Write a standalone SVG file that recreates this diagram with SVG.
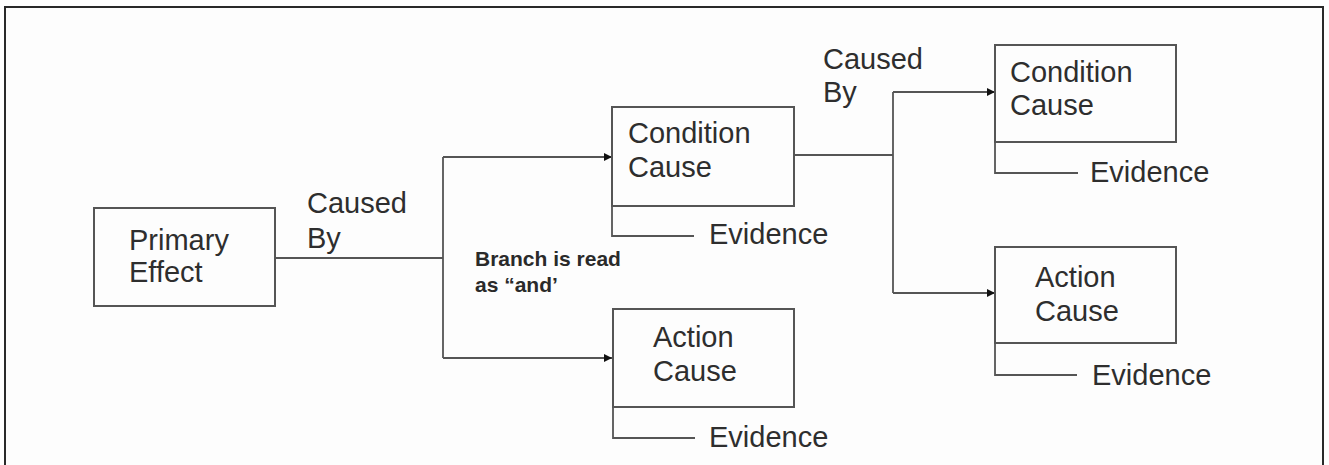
<svg xmlns="http://www.w3.org/2000/svg" width="1329" height="465" viewBox="0 0 1329 465">
<style>
.t{font-family:"Liberation Sans",Arial,sans-serif;font-size:29px;fill:#2e2e2e}
.b{font-family:"Liberation Sans",Arial,sans-serif;font-size:21px;font-weight:bold;fill:#2a2a2a}
.box{fill:none;stroke:#555;stroke-width:2}
.ln{fill:none;stroke:#555;stroke-width:1.8}
</style>
<defs>
<marker id="ah" viewBox="0 0 10 10" refX="10" refY="5" markerWidth="10" markerHeight="8" markerUnits="userSpaceOnUse" orient="auto">
<path d="M0,0 L10,5 L0,10 z" fill="#111"/>
</marker>
</defs>
<rect x="0" y="0" width="1329" height="465" fill="#ffffff"/>
<rect x="5" y="7" width="1318" height="470" fill="#fdfdfd" stroke="#2a2a2a" stroke-width="2"/>

<g id="connectors">
<polyline class="ln" points="275,258 443,258"/>
<polyline class="ln" points="443,157 443,358"/>
<polyline class="ln" points="443,157 612,157" marker-end="url(#ah)"/>
<polyline class="ln" points="443,358 612,358" marker-end="url(#ah)"/>
<polyline class="ln" points="794,155 893,155"/>
<polyline class="ln" points="893,92 893,293"/>
<polyline class="ln" points="893,92 995,92" marker-end="url(#ah)"/>
<polyline class="ln" points="893,293 995,293" marker-end="url(#ah)"/>
<polyline class="ln" points="612,206 612,236 694,236"/>
<polyline class="ln" points="613,407 613,438 695,438"/>
<polyline class="ln" points="995,142 995,173 1078,173"/>
<polyline class="ln" points="995,343 995,375 1077,375"/>
</g>

<g id="labels">
<text class="t" x="307" y="213">Caused</text>
<text class="t" x="307" y="248">By</text>
<text class="t" x="823" y="69">Caused</text>
<text class="t" x="823" y="102">By</text>
<text class="b" x="475" y="266">Branch is read</text>
<text class="b" x="475" y="292">as “and’</text>
</g>

<g id="primary-effect">
<rect class="box" x="94" y="208" width="181" height="98"/>
<text class="t" x="129" y="250">Primary</text>
<text class="t" x="129" y="282">Effect</text>
</g>

<g id="condition-cause-1">
<rect class="box" x="612" y="107" width="182" height="99"/>
<text class="t" x="628" y="143">Condition</text>
<text class="t" x="628" y="177">Cause</text>
<text class="t" x="709" y="244">Evidence</text>
</g>

<g id="action-cause-1">
<rect class="box" x="613" y="309" width="181" height="98"/>
<text class="t" x="653" y="347">Action</text>
<text class="t" x="653" y="381">Cause</text>
<text class="t" x="709" y="447">Evidence</text>
</g>

<g id="condition-cause-2">
<rect class="box" x="995" y="45" width="181" height="97"/>
<text class="t" x="1010" y="82">Condition</text>
<text class="t" x="1010" y="115">Cause</text>
<text class="t" x="1090" y="182">Evidence</text>
</g>

<g id="action-cause-2">
<rect class="box" x="995" y="247" width="181" height="96"/>
<text class="t" x="1035" y="287">Action</text>
<text class="t" x="1035" y="321">Cause</text>
<text class="t" x="1092" y="385">Evidence</text>
</g>
</svg>
